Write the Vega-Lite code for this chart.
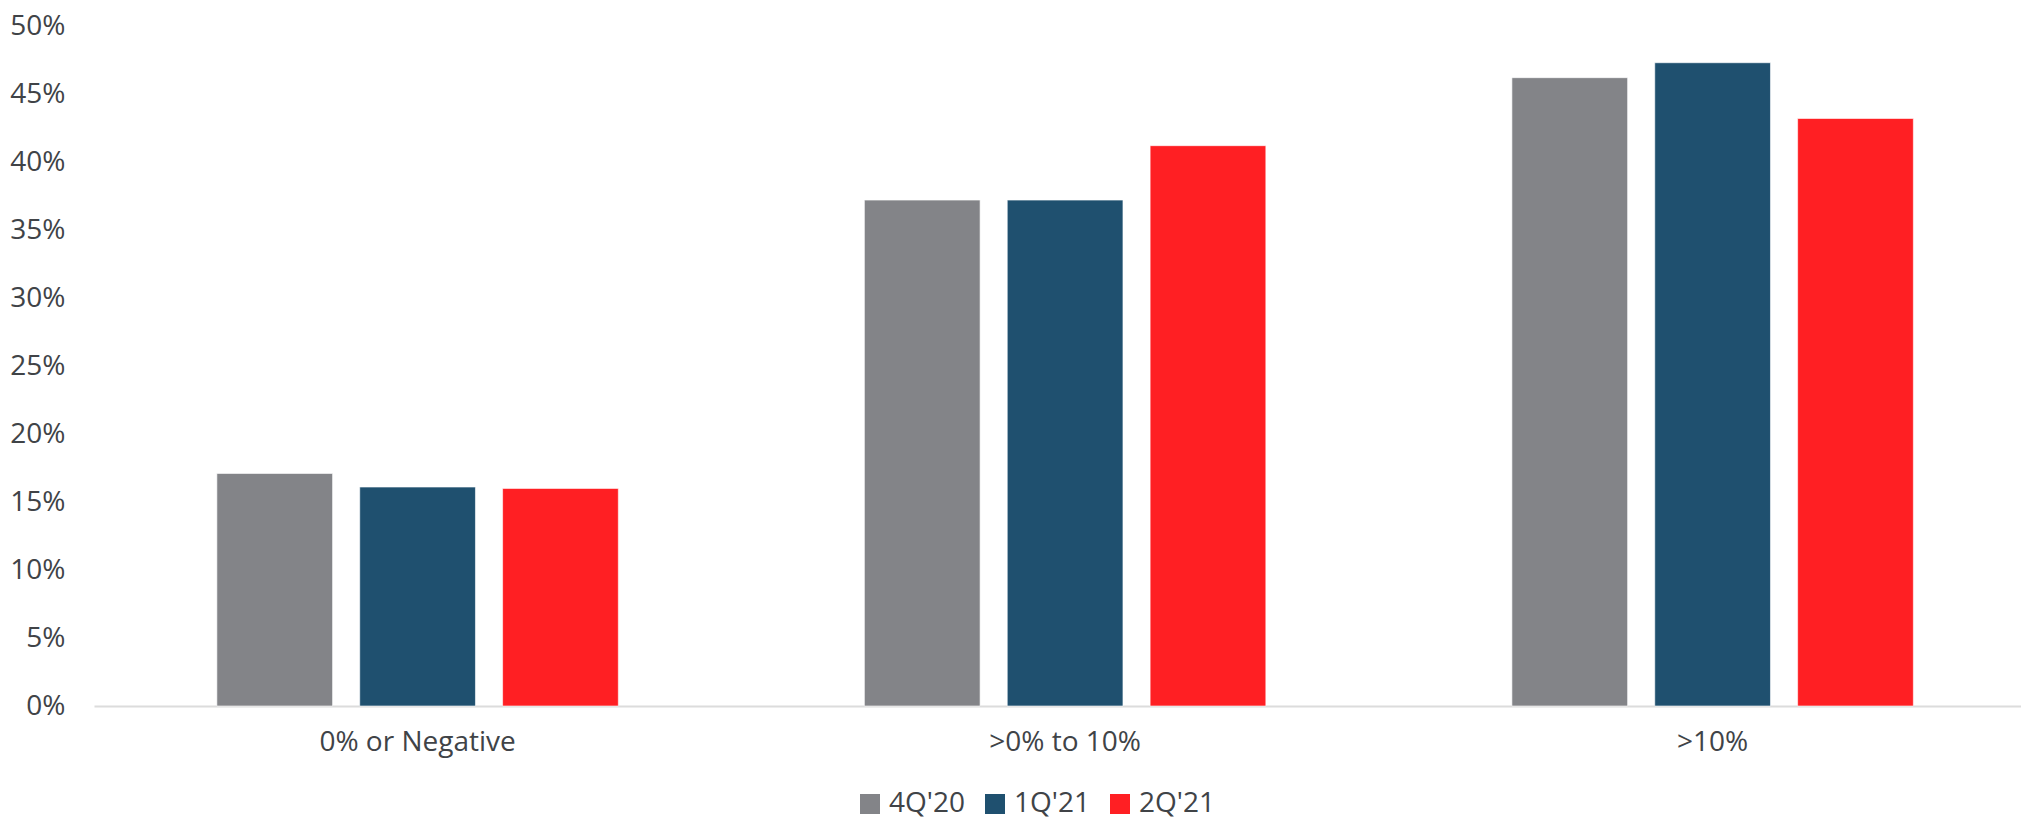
{
  "$schema": "https://vega.github.io/schema/vega-lite/v6.json",
  "autosize": {"type": "none"},
  "padding": {"left": 94, "top": 26, "right": 0, "bottom": 114},
  "width": 1927,
  "height": 680,
  "background": "white",
  "config": {
    "view": {"stroke": null},
    "font": "Open Sans",
    "axis": {"labelFont": "Open Sans", "labelColor": "#404347", "labelFontSize": 28, "labelLimit": 0}
  },
  "data": {
    "values": [
      {"bucket": "0% or Negative", "quarter": "4Q'20", "share": 0.171},
      {"bucket": "0% or Negative", "quarter": "1Q'21", "share": 0.161},
      {"bucket": "0% or Negative", "quarter": "2Q'21", "share": 0.160},
      {"bucket": ">0% to 10%", "quarter": "4Q'20", "share": 0.372},
      {"bucket": ">0% to 10%", "quarter": "1Q'21", "share": 0.372},
      {"bucket": ">0% to 10%", "quarter": "2Q'21", "share": 0.412},
      {"bucket": ">10%", "quarter": "4Q'20", "share": 0.462},
      {"bucket": ">10%", "quarter": "1Q'21", "share": 0.473},
      {"bucket": ">10%", "quarter": "2Q'21", "share": 0.432}
    ]
  },
  "mark": {"type": "bar", "stroke": "white", "strokeWidth": 1, "strokeOpacity": 0.6},
  "encoding": {
    "x": {
      "field": "bucket",
      "type": "nominal",
      "sort": ["0% or Negative", ">0% to 10%", ">10%"],
      "scale": {"paddingInner": 0.38, "paddingOuter": 0.178, "align": 0.533},
      "axis": {
        "title": null,
        "labelAngle": 0,
        "ticks": false,
        "domain": true,
        "domainColor": "#dcdcdc",
        "domainWidth": 2,
        "labelPadding": 22,
        "labelLimit": 0
      }
    },
    "xOffset": {
      "field": "quarter",
      "type": "nominal",
      "sort": ["4Q'20", "1Q'21", "2Q'21"],
      "scale": {"paddingInner": 0.19, "paddingOuter": 0}
    },
    "y": {
      "field": "share",
      "type": "quantitative",
      "scale": {"domain": [0, 0.5], "nice": false},
      "axis": {
        "title": null,
        "format": ".0%",
        "values": [0, 0.05, 0.1, 0.15, 0.2, 0.25, 0.3, 0.35, 0.4, 0.45, 0.5],
        "grid": false,
        "domain": false,
        "ticks": false,
        "labelPadding": 29
      }
    },
    "color": {
      "field": "quarter",
      "type": "nominal",
      "sort": ["4Q'20", "1Q'21", "2Q'21"],
      "scale": {"domain": ["4Q'20", "1Q'21", "2Q'21"], "range": ["#838488", "#1f506f", "#ff1f23"]},
      "legend": {
        "title": null,
        "orient": "none",
        "direction": "horizontal",
        "legendX": 762,
        "legendY": 764,
        "padding": 0,
        "symbolType": "square",
        "symbolSize": 400,
        "symbolStrokeWidth": 0,
        "symbolOpacity": 1,
        "labelFont": "Open Sans",
        "labelFontSize": 28,
        "labelColor": "#404347",
        "labelOffset": 5,
        "columnPadding": 16
      }
    }
  }
}
